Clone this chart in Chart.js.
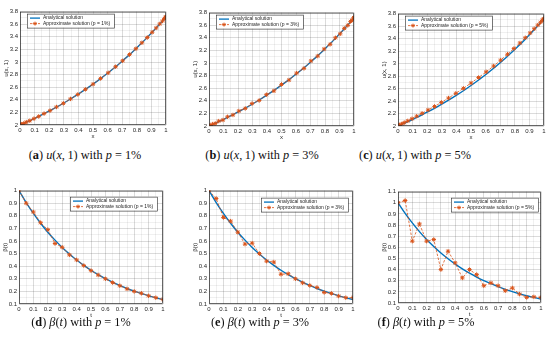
<!DOCTYPE html>
<html>
<head>
<meta charset="utf-8">
<script src="https://cdn.jsdelivr.net/npm/chart.js@4.4.0/dist/chart.umd.min.js"></script>
<style>
    body { margin: 0; background: #fff; }
    #page { position: relative; width: 550px; height: 347px; overflow: hidden; }
    #page canvas { position: absolute; }
    .cap {
        position: absolute;
        transform: translateX(-50%);
        white-space: nowrap;
        font-family: "Liberation Serif", "DejaVu Serif", serif;
        font-size: 12.3px;
        line-height: 13px;
        color: #111;
    }
</style>
</head>
<body>
<div id="page"></div>
<script>
// x nodes used for u(x,1)
var xNodes = [0, 0.003, 0.011, 0.025, 0.043, 0.067, 0.096, 0.128, 0.165, 0.206, 0.25,
    0.297, 0.346, 0.396, 0.448, 0.5, 0.552, 0.604, 0.655, 0.703, 0.75,
    0.794, 0.835, 0.872, 0.905, 0.933, 0.957, 0.976, 0.989, 0.997, 1];
var uExact = [2.000, 2.003, 2.011, 2.025, 2.044, 2.069, 2.100, 2.137, 2.180, 2.229, 2.284,
    2.345, 2.413, 2.486, 2.565, 2.649, 2.737, 2.829, 2.924, 3.021, 3.117,
    3.212, 3.304, 3.391, 3.471, 3.542, 3.603, 3.653, 3.689, 3.711, 3.718];
var uApprox1 = [2.000, 2.003, 2.012, 2.024, 2.046, 2.068, 2.101, 2.136, 2.181, 2.228, 2.286,
    2.344, 2.414, 2.485, 2.566, 2.648, 2.739, 2.828, 2.925, 3.019, 3.118,
    3.211, 3.305, 3.389, 3.472, 3.541, 3.604, 3.651, 3.690, 3.710, 3.718];
var uApprox3 = [2.000, 2.005, 2.008, 2.030, 2.040, 2.078, 2.095, 2.146, 2.175, 2.238, 2.279,
    2.356, 2.405, 2.497, 2.558, 2.660, 2.730, 2.840, 2.915, 3.032, 3.110,
    3.222, 3.296, 3.400, 3.463, 3.550, 3.597, 3.660, 3.684, 3.717, 3.716];
var uApprox5 = [2.000, 2.004, 2.016, 2.032, 2.054, 2.082, 2.116, 2.157, 2.203, 2.256, 2.313,
    2.378, 2.448, 2.523, 2.603, 2.688, 2.776, 2.867, 2.960, 3.055, 3.149,
    3.240, 3.329, 3.413, 3.490, 3.557, 3.615, 3.661, 3.694, 3.714, 3.720];

// t nodes used for beta(t)
var tNodes = [0, 0.05, 0.1, 0.15, 0.2, 0.25, 0.3, 0.35, 0.4, 0.45, 0.5,
    0.55, 0.6, 0.65, 0.7, 0.75, 0.8, 0.85, 0.9, 0.95, 1];
var betaExact = [1, 0.905, 0.819, 0.741, 0.670, 0.607, 0.549, 0.497, 0.449, 0.407, 0.368,
    0.333, 0.301, 0.273, 0.247, 0.223, 0.202, 0.183, 0.165, 0.150, 0.135];
var betaApprox1 = [1, 0.90, 0.83, 0.745, 0.69, 0.58, 0.55, 0.49, 0.45, 0.405, 0.365,
    0.33, 0.30, 0.27, 0.245, 0.22, 0.20, 0.185, 0.165, 0.15, 0.135];
var betaApprox3 = [1, 0.937, 0.787, 0.758, 0.67, 0.575, 0.583, 0.50, 0.44, 0.433, 0.336,
    0.34, 0.30, 0.268, 0.247, 0.231, 0.192, 0.184, 0.163, 0.15, 0.15];
var betaApprox5 = [1, 1.02, 0.655, 0.81, 0.655, 0.67, 0.40, 0.565, 0.46, 0.325, 0.40,
    0.355, 0.255, 0.28, 0.255, 0.21, 0.235, 0.18, 0.15, 0.155, 0.15];

var BLUE = "#0072BD";
var ORANGE = "#D95319";
var INK = "#262626";
var SANS = "'Liberation Sans', Arial, sans-serif";

function pts(xs, ys) {
    return xs.map(function(x, i) { return { x: x, y: ys[i] }; });
}

function isMajor(v, k) {
    return Math.abs(v * k - Math.round(v * k)) < 1e-6;
}

function drawStar(ctx, x, y, r) {
    ctx.beginPath();
    ctx.moveTo(x - r, y); ctx.lineTo(x + r, y);
    ctx.moveTo(x, y - r); ctx.lineTo(x, y + r);
    var d = r * 0.7;
    ctx.moveTo(x - d, y - d); ctx.lineTo(x + d, y + d);
    ctx.moveTo(x - d, y + d); ctx.lineTo(x + d, y - d);
    ctx.stroke();
}

// axes box + legend drawn inside the plot area
var frame = {
    id: "frame",
    afterDraw: function(chart, args, opts) {
        var a = chart.chartArea, ctx = chart.ctx;
        ctx.save();
        ctx.strokeStyle = INK;
        ctx.lineWidth = 0.7;
        ctx.strokeRect(a.left + 0.5, a.top + 0.5, a.right - a.left - 1, a.bottom - a.top - 1);

        ctx.font = "5px " + SANS;
        var labels = ["Analytical solution", "Approximate solution (p = " + opts.p + ")"];
        var tw = Math.max(ctx.measureText(labels[0]).width, ctx.measureText(labels[1]).width);
        var w = Math.round(16 + tw + 4), h = 14;
        var x0 = opts.side === "left" ? a.left + opts.dx : a.right - opts.dx - w;
        var y0 = a.top + opts.dy;
        ctx.fillStyle = "#fff";
        ctx.fillRect(x0, y0, w, h);
        ctx.lineWidth = 0.6;
        ctx.strokeRect(x0 + 0.5, y0 + 0.5, w, h);

        var r1 = y0 + 4.5, r2 = y0 + 10;
        ctx.strokeStyle = BLUE;
        ctx.lineWidth = 1.3;
        ctx.beginPath(); ctx.moveTo(x0 + 3, r1); ctx.lineTo(x0 + 13, r1); ctx.stroke();
        ctx.strokeStyle = ORANGE;
        ctx.lineWidth = 0.8;
        ctx.setLineDash([2.5, 1.5]);
        ctx.beginPath(); ctx.moveTo(x0 + 3, r2); ctx.lineTo(x0 + 13, r2); ctx.stroke();
        ctx.setLineDash([]);
        ctx.lineWidth = 0.9;
        drawStar(ctx, x0 + 8, r2, 2);

        ctx.fillStyle = INK;
        ctx.textBaseline = "middle";
        ctx.fillText(labels[0], x0 + 16, r1);
        ctx.fillText(labels[1], x0 + 16, r2);
        ctx.restore();
    }
};

var panels = [
    { left: 20, right: 167, top: 10, bottom: 125, kind: "u", ys: uApprox1, p: "1%", side: "left", dx: 7, dy: 2 },
    { left: 209, right: 355, top: 11, bottom: 126, kind: "u", ys: uApprox3, p: "3%", side: "left", dx: 7, dy: 2 },
    { left: 398, right: 545, top: 12, bottom: 126, kind: "u", ys: uApprox5, p: "5%", side: "left", dx: 7, dy: 2 },
    { left: 19, right: 164, top: 189, bottom: 304, kind: "b", ys: betaApprox1, p: "1%", side: "right", dx: 6, dy: 6, ymax: 1 },
    { left: 209, right: 354, top: 189, bottom: 304, kind: "b", ys: betaApprox3, p: "3%", side: "right", dx: 5, dy: 7, ymax: 1 },
    { left: 398, right: 542, top: 190, bottom: 303, kind: "b", ys: betaApprox5, p: "5%", side: "right", dx: 3, dy: 6, ymax: 1.1 }
];

var captions = [
    { x: 85, y: 149, html: "(<b>a</b>) <i>u</i>(<i>x</i>,&#8201;1) with <i>p</i> = 1%" },
    { x: 262, y: 149, html: "(<b>b</b>) <i>u</i>(<i>x</i>,&#8201;1) with <i>p</i> = 3%" },
    { x: 415, y: 149, html: "(<b>c</b>) <i>u</i>(<i>x</i>,&#8201;1) with <i>p</i> = 5%" },
    { x: 81, y: 316, html: "(<b>d</b>) <i>&beta;</i>(<i>t</i>) with <i>p</i> = 1%" },
    { x: 260, y: 316, html: "(<b>e</b>) <i>&beta;</i>(<i>t</i>) with <i>p</i> = 3%" },
    { x: 426, y: 316, html: "(<b>f</b>) <i>&beta;</i>(<i>t</i>) with <i>p</i> = 5%" }
];

var YW = 17, XH = 15, PT = 4, PR = 4;
var page = document.getElementById("page");

function gridColor(k) {
    return function(c) {
        return isMajor(c.tick.value, k) ? "rgba(0,0,0,0.14)" : "rgba(0,0,0,0.06)";
    };
}

function label(k) {
    return function(v) {
        return isMajor(v, k) ? String(Math.round(v * k) / k) : "";
    };
}

panels.forEach(function(p) {
    var cv = document.createElement("canvas");
    var w = p.right - p.left + YW + PR;
    var h = p.bottom - p.top + PT + XH;
    cv.width = w;
    cv.height = h;
    cv.style.left = (p.left - YW) + "px";
    cv.style.top = (p.top - PT) + "px";
    cv.style.width = w + "px";
    cv.style.height = h + "px";
    page.appendChild(cv);

    var isU = p.kind === "u";
    var xs = isU ? xNodes : tNodes;
    var exact = isU ? uExact : betaExact;
    var tickFont = { size: 6, family: SANS };

    new Chart(cv, {
        type: "line",
        data: {
            datasets: [{
                    label: "Analytical solution",
                    data: pts(xs, exact),
                    borderColor: BLUE,
                    borderWidth: 1.4,
                    pointRadius: 0,
                    cubicInterpolationMode: "monotone",
                    order: 1,
                },
                {
                    label: "Approximate solution (p = " + p.p + ")",
                    data: pts(xs, p.ys),
                    borderColor: ORANGE,
                    borderWidth: 0.8,
                    borderDash: [2.5, 1.5],
                    pointStyle: "star",
                    pointRadius: 2.2,
                    pointBorderColor: ORANGE,
                    pointBorderWidth: 1,
                    tension: 0,
                    order: 0,
                },
            ],
        },
        options: {
            responsive: false,
            animation: false,
            devicePixelRatio: 1,
            layout: { padding: { top: PT, right: PR, left: 0, bottom: 0 } },
            plugins: {
                legend: { display: false },
                tooltip: { enabled: false },
                frame: { p: p.p, side: p.side, dx: p.dx, dy: p.dy },
            },
            scales: {
                x: {
                    type: "linear",
                    min: 0,
                    max: 1,
                    ticks: {
                        stepSize: 0.05,
                        autoSkip: false,
                        maxRotation: 0,
                        padding: 2,
                        font: tickFont,
                        color: INK,
                        callback: label(10),
                    },
                    grid: { color: gridColor(10), drawTicks: false },
                    border: { display: false },
                    title: { display: true, text: isU ? "x" : "t", font: tickFont, color: INK, padding: 0 },
                    afterFit: function(s) { s.height = XH; },
                },
                y: {
                    type: "linear",
                    min: isU ? 2 : 0.1,
                    max: isU ? 3.8 : p.ymax,
                    ticks: {
                        stepSize: isU ? 0.1 : 0.05,
                        autoSkip: false,
                        padding: 2,
                        font: tickFont,
                        color: INK,
                        callback: label(isU ? 5 : 10),
                    },
                    grid: { color: gridColor(isU ? 5 : 10), drawTicks: false },
                    border: { display: false },
                    title: { display: true, text: isU ? "u(x, 1)" : "\u03b2(t)", font: tickFont, color: INK, padding: 0 },
                    afterFit: function(s) { s.width = YW; },
                },
            },
        },
        plugins: [frame],
    });
});

captions.forEach(function(c) {
    var d = document.createElement("div");
    d.className = "cap";
    d.style.left = c.x + "px";
    d.style.top = c.y + "px";
    d.innerHTML = c.html;
    page.appendChild(d);
});
</script>
</body>
</html>
